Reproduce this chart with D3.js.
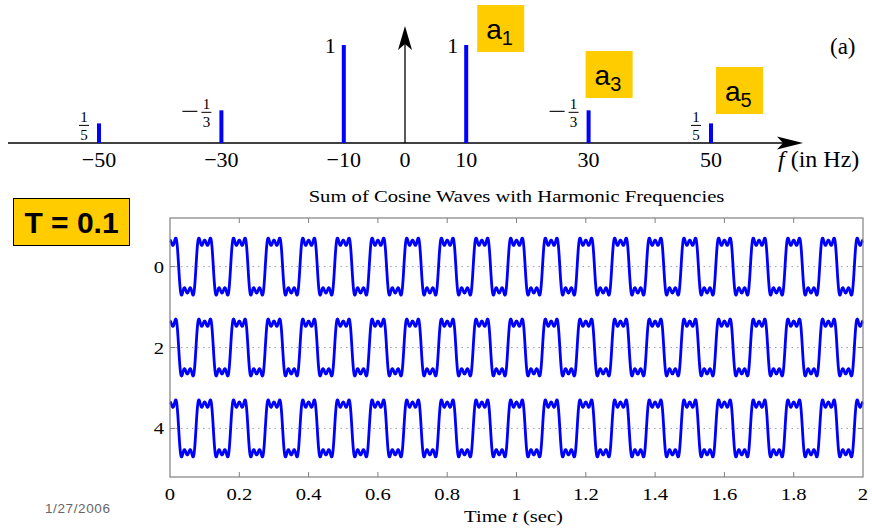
<!DOCTYPE html>
<html>
<head>
<meta charset="utf-8">
<script src="https://cdn.jsdelivr.net/npm/d3@7"></script>
<style>
  html, body { margin: 0; padding: 0; background: #fff; }
  svg { display: block; }
</style>
</head>
<body>
<svg id="chart" width="872" height="529"></svg>
<script>
// ---------------- data ----------------
const specFreqs  = [-50, -30, -10, 10, 30, 50];          // Hz
const specAmps   = [1/5, -1/3, 1, 1, -1/3, 1/5];          // line values
const specLabels = ["1/5", "−1/3", "1", "1", "−1/3", "1/5"];
const freqTicks  = [-50, -30, -10, 0, 10, 30, 50];
const coefNames  = [{f: 10, sub: "1"}, {f: 30, sub: "3"}, {f: 50, sub: "5"}];

const harmFreqs  = [10, 30, 50];                          // Hz
const harmAmps   = [1, -1/3, 1/5];
const stripOffsets = [0, 2, 4];
const stripDuration = 2;                                  // seconds per strip
const timeTicks  = [0, 0.2, 0.4, 0.6, 0.8, 1, 1.2, 1.4, 1.6, 1.8, 2];
const yTicks     = [0, 2, 4];
const periodLabel = "T = 0.1";
const dateLabel  = "1/27/2006";

// ---------------- setup ----------------
const svg = d3.select("#chart");
const serif = "'Liberation Serif', 'Times New Roman', serif";
const sans  = "'Liberation Sans', Arial, sans-serif";
const BLUE = "#0000ff";

// ========== TOP: spectrum ==========
const fx = d3.scaleLinear().domain([-50, 50]).range([99, 711]);
const fy = d3.scaleLinear().domain([0, 1]).range([143, 45]);
const gTop = svg.append("g");

// horizontal axis with arrow
gTop.append("line").attr("x1", 8).attr("x2", 792).attr("y1", fy(0)).attr("y2", fy(0))
  .attr("stroke", "#000").attr("stroke-width", 1.3);
gTop.append("path")
  .attr("d", `M803,${fy(0)} L777,${fy(0)-6.5} L783,${fy(0)} L777,${fy(0)+6.5} Z`)
  .attr("fill", "#000");
// vertical axis at f=0 with arrow
gTop.append("line").attr("x1", fx(0)).attr("x2", fx(0)).attr("y1", fy(0)).attr("y2", 36)
  .attr("stroke", "#000").attr("stroke-width", 1.3);
gTop.append("path")
  .attr("d", `M${fx(0)},26 L${fx(0)-7},50 L${fx(0)},44 L${fx(0)+7},50 Z`)
  .attr("fill", "#000");

// stems
gTop.selectAll("line.stem").data(specFreqs).enter().append("line")
  .attr("class", "stem")
  .attr("x1", d => fx(d)).attr("x2", d => fx(d))
  .attr("y1", fy(0))
  .attr("y2", (d, i) => fy(Math.abs(specAmps[i])))
  .attr("stroke", BLUE).attr("stroke-width", 4);

// tick labels
gTop.selectAll("text.ftick").data(freqTicks).enter().append("text")
  .attr("x", d => fx(d)).attr("y", 167)
  .attr("text-anchor", "middle")
  .attr("font-family", serif).attr("font-size", 22)
  .text(d => d < 0 ? "−" + Math.abs(d) : String(d));

// stem value labels
specLabels.forEach((lab, i) => {
  const x = fx(specFreqs[i]);
  const yt = fy(Math.abs(specAmps[i]));
  if (lab.indexOf("/") < 0) {
    gTop.append("text").attr("x", x - 8).attr("y", yt + 8)
      .attr("text-anchor", "end")
      .attr("font-family", serif).attr("font-size", 22).text(lab);
  } else {
    const neg = lab[0] === "−";
    const parts = lab.replace("−", "").split("/");
    const cx = x - 15, by = yt + 2;
    gTop.append("line").attr("x1", cx - 5).attr("x2", cx + 5)
      .attr("y1", by).attr("y2", by).attr("stroke", "#000").attr("stroke-width", 1);
    gTop.append("text").attr("x", cx).attr("y", by - 3).attr("text-anchor", "middle")
      .attr("font-family", serif).attr("font-size", 15).text(parts[0]);
    gTop.append("text").attr("x", cx).attr("y", by + 14.5).attr("text-anchor", "middle")
      .attr("font-family", serif).attr("font-size", 15).text(parts[1]);
    if (neg) {
      gTop.append("line").attr("x1", cx - 24).attr("x2", cx - 9)
        .attr("y1", by - 1).attr("y2", by - 1).attr("stroke", "#000").attr("stroke-width", 1.1);
    }
  }
});

// coefficient boxes a1, a3, a5
const boxPos = [{dx: 11, y: 5}, {dx: -3, y: 51}, {dx: 5, y: 67}];
coefNames.forEach((c, i) => {
  const x0 = fx(c.f) + boxPos[i].dx, y0 = boxPos[i].y;
  gTop.append("rect").attr("x", x0).attr("y", y0).attr("width", 47).attr("height", 47)
    .attr("fill", "#ffcc00");
  const t = gTop.append("text").attr("x", x0 + 9).attr("y", y0 + 34)
    .attr("font-family", sans).attr("font-size", 28).attr("fill", "#000");
  t.append("tspan").text("a");
  t.append("tspan").attr("font-size", 20).attr("dy", 6).text(c.sub);
});

// (a)
gTop.append("text").attr("x", 830).attr("y", 54)
  .attr("font-family", serif).attr("font-size", 23).text("(a)");
// f (in Hz)
const fl = gTop.append("text").attr("x", 778).attr("y", 167)
  .attr("font-family", serif).attr("font-size", 24);
fl.append("tspan").attr("font-style", "italic").text("f");
fl.append("tspan").text(" (in Hz)");

// T = 0.1 box
svg.append("rect").attr("x", 13.5).attr("y", 198.5).attr("width", 116).attr("height", 47)
  .attr("fill", "#ffcc00").attr("stroke", "#000").attr("stroke-width", 1);
svg.append("text").attr("x", 71.5).attr("y", 233).attr("text-anchor", "middle")
  .attr("font-family", sans).attr("font-weight", "bold").attr("font-size", 30)
  .text(periodLabel);

// date
svg.append("text").attr("x", 45).attr("y", 513)
  .attr("font-family", sans).attr("font-size", 13.5).attr("fill", "#666")
  .attr("textLength", 65).text(dateLabel);

// ========== BOTTOM: strips ==========
const X0 = 170, X1 = 863, Y0 = 218, Y1 = 477;
const tx = d3.scaleLinear().domain([0, stripDuration]).range([X0, X1]);
const ty = d3.scaleLinear().domain([-1.2, 5.2]).range([Y0, Y1]);
const SX = 1.25;  // horizontal stretch of the figure's text
const FRAME = "#808080";
const bot = svg.append("g");

function stext(x, y, str, size, anchor) {
  return bot.append("text")
    .attr("transform", `translate(${x},${y}) scale(${SX},1)`)
    .attr("text-anchor", anchor || "middle")
    .attr("font-family", serif).attr("font-size", size).text(str);
}

// grid
bot.selectAll("line.grid").data(yTicks).enter().append("line")
  .attr("x1", X0).attr("x2", X1).attr("y1", d => ty(d)).attr("y2", d => ty(d))
  .attr("stroke", "#a0a0a0").attr("stroke-width", 1).attr("stroke-dasharray", "1.5,4");

// waveform
function signal(t) {
  let s = 0;
  harmFreqs.forEach((f, k) => { s += harmAmps[k] * Math.cos(2 * Math.PI * f * t); });
  return s;
}
const STRIP_SCALE = 0.755;
const ts = d3.range(0, stripDuration + 1e-9, 0.0005);
const line = d3.line().x(d => tx(d.t)).y(d => ty(d.off - STRIP_SCALE * d.v));
stripOffsets.forEach((off, k) => {
  const pts = ts.map(t => ({t, off, v: signal(t + k * stripDuration)}));
  bot.append("path").attr("d", line(pts))
    .attr("fill", "none").attr("stroke", BLUE).attr("stroke-width", 2.8)
    .attr("stroke-linejoin", "round");
});

// frame
bot.append("rect").attr("x", X0).attr("y", Y0).attr("width", X1 - X0).attr("height", Y1 - Y0)
  .attr("fill", "none").attr("stroke", FRAME).attr("stroke-width", 1.2);

// ticks
const inner = timeTicks.filter(d => d > 0 && d < stripDuration);
bot.selectAll("line.tt").data(inner).enter().append("line")
  .attr("x1", d => tx(d)).attr("x2", d => tx(d)).attr("y1", Y0).attr("y2", Y0 + 5)
  .attr("stroke", FRAME);
bot.selectAll("line.tb").data(inner).enter().append("line")
  .attr("x1", d => tx(d)).attr("x2", d => tx(d)).attr("y1", Y1).attr("y2", Y1 - 5)
  .attr("stroke", FRAME);
bot.selectAll("line.yl").data(yTicks).enter().append("line")
  .attr("x1", X0).attr("x2", X0 + 5).attr("y1", d => ty(d)).attr("y2", d => ty(d))
  .attr("stroke", FRAME);
bot.selectAll("line.yr").data(yTicks).enter().append("line")
  .attr("x1", X1).attr("x2", X1 - 5).attr("y1", d => ty(d)).attr("y2", d => ty(d))
  .attr("stroke", FRAME);

// tick labels
timeTicks.forEach(d => stext(tx(d), 500, String(d), 16.5));
yTicks.forEach(d => stext(164, ty(d) + 6, String(d), 16.5, "end"));

// title & xlabel
stext((X0 + X1) / 2, 202, "Sum of Cosine Waves with Harmonic Frequencies", 16.5);
const xl = bot.append("text")
  .attr("transform", `translate(${(X0 + X1) / 2 - 3},522) scale(${SX},1)`)
  .attr("text-anchor", "middle").attr("font-family", serif).attr("font-size", 16.5);
xl.append("tspan").text("Time ");
xl.append("tspan").attr("font-style", "italic").text("t");
xl.append("tspan").text(" (sec)");
</script>
</body>
</html>
